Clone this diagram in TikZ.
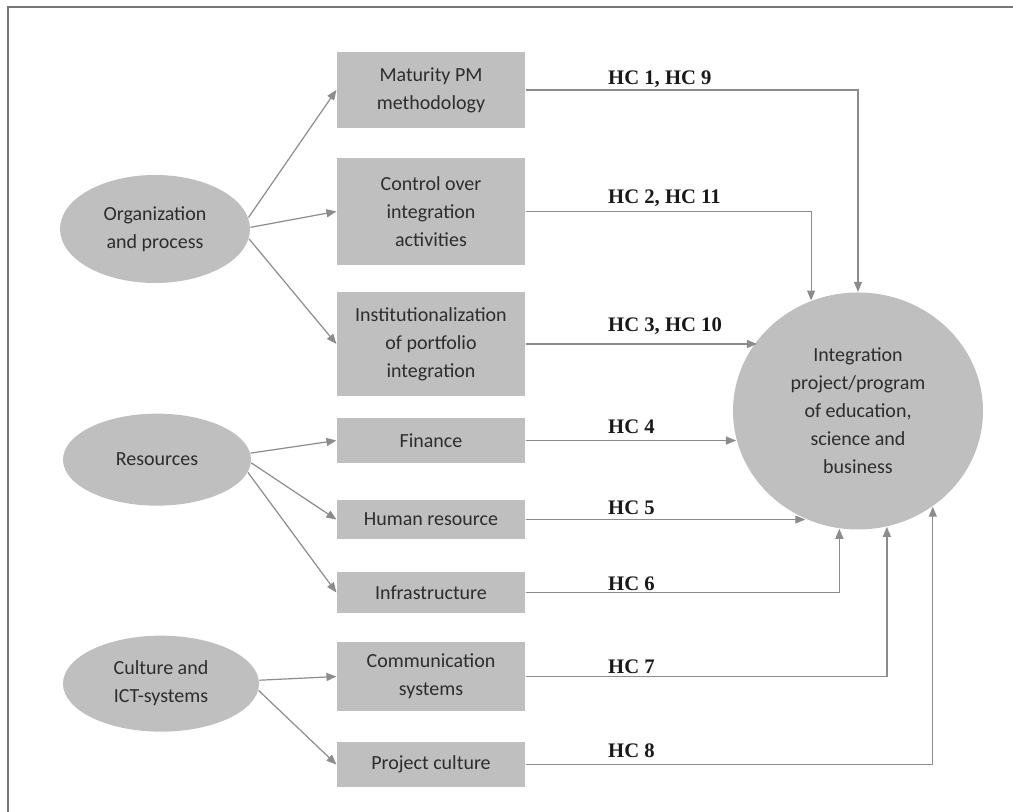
\documentclass[tikz,border=0pt]{standalone}
\usepackage{fontspec}
\setmainfont{Carlito}
\newfontfamily\hcfont{Liberation Serif}
\usetikzlibrary{shapes.geometric,arrows.meta}
\definecolor{boxgray}{RGB}{191,191,191}
\definecolor{linegray}{RGB}{140,140,140}
\definecolor{txtgray}{RGB}{45,45,45}
\definecolor{framegray}{RGB}{120,120,120}

\begin{document}
\begin{tikzpicture}[x=0.75pt, y=0.75pt, >={Triangle[length=7.5pt,width=6pt]}, line width=0.9pt]
        % Stili
        \tikzstyle{block} = [fill=boxgray, rectangle, minimum width=141pt, inner sep=2pt, align=center, text=txtgray, font=\fontsize{15}{21}\selectfont]
        \tikzstyle{group} = [fill=boxgray, ellipse, inner sep=0pt, align=center, text=txtgray, font=\fontsize{15}{21}\selectfont]
        \tikzstyle{goal} = [group, minimum width=187.5pt, minimum height=177.75pt]
        \tikzstyle{conn} = [->, draw=linegray]
        \tikzstyle{hc} = [anchor=base west, inner sep=0pt, text=black!90, font=\hcfont\bfseries\fontsize{15.5}{18}\selectfont, yshift=4pt]

        \useasboundingbox (0,0) rectangle (1013,812);

        % Cornice
        \draw [framegray, line width=1.5pt] (1013,805) -- (8,805) -- (8,0);

        % --- Fattori (colonna centrale) ---
        \node [block, minimum height=57pt] (mat) at (431,722) {Maturity PM\\methodology};
        \node [block, below of=mat, node distance=91.1pt, minimum height=80.25pt] (ctrl) {Control over\\integration\\activities};
        \node [block, below of=ctrl, node distance=99.4pt, minimum height=78pt] (inst) {Institutionalization\\of portfolio\\integration};
        \node [block, below of=inst, node distance=72.4pt, minimum height=33.75pt] (fin) {Finance};
        \node [block, below of=fin, node distance=59.25pt, minimum height=29.25pt] (hum) {Human resource};
        \node [block, below of=hum, node distance=54.75pt, minimum height=30.75pt] (infra) {Infrastructure};
        \node [block, below of=infra, node distance=63pt, minimum height=51.75pt] (comm) {Communication\\systems};
        \node [block, below of=comm, node distance=66pt, minimum height=33.75pt] (cult) {Project culture};

        % --- Gruppi (a sinistra) ---
        \node [group, minimum width=142.5pt, minimum height=81pt] (org) at (155,583) {Organization\\and process};
        \node [group, below of=org, node distance=173pt, xshift=1.5pt, minimum width=141pt, minimum height=69pt] (res) {Resources};
        \node [group, below of=res, node distance=168pt, xshift=3pt, minimum width=147pt, minimum height=72pt] (ict) {Culture and\\ICT-systems};

        % --- Obiettivo ---
        \node [goal] (integ) at (858,401) {Integration\\project/program\\of education,\\science and\\business};

        % --- Collegamenti gruppi -> fattori ---
        \draw [conn] (org.7) -- (mat.west);
        \draw [conn] (org.1) -- (ctrl.west);
        \draw [conn] (org.-6) -- (inst.west);
        \draw [conn] (res.4) -- (fin.west);
        \draw [conn] (res.-2) -- (hum.west);
        \draw [conn] (res.-8) -- (infra.west);
        \draw [conn] (ict.2) -- (comm.west);
        \draw [conn] (ict.-4) -- (cult.west);

        % --- Collegamenti fattori -> obiettivo ---
        \draw [conn] (mat.east) -- ++(82,0) node [hc] {HC 1, HC 9} -| (integ.north);
        \draw [conn] (ctrl.east) -- ++(82,0) node [hc, yshift=2pt] {HC 2, HC 11} -| (integ.113);
        \draw [conn] (inst.east) -- ++(82,0) node [hc, yshift=5pt] {HC 3, HC 10} -- (inst.east -| integ.145);
        \draw [conn] (fin.east) -- ++(82,0) node [hc, yshift=1pt] {HC 4} -- (fin.east -| integ.193);
        \draw [conn] (hum.east) -- ++(82,0) node [hc, yshift=-0.5pt] {HC 5} -- (hum.east -| integ.244);
        \draw [conn] (infra.east) -- ++(82,0) node [hc, yshift=-2.5pt] {HC 6} -| (integ.261);
        \draw [conn] (comm.east) -- ++(82,0) node [hc, yshift=-1.5pt] {HC 7} -| (integ.284);
        \draw [conn] (cult.east) -- ++(82,0) node [hc, yshift=1pt] {HC 8} -| (integ.308);

    \end{tikzpicture}
\end{document}
